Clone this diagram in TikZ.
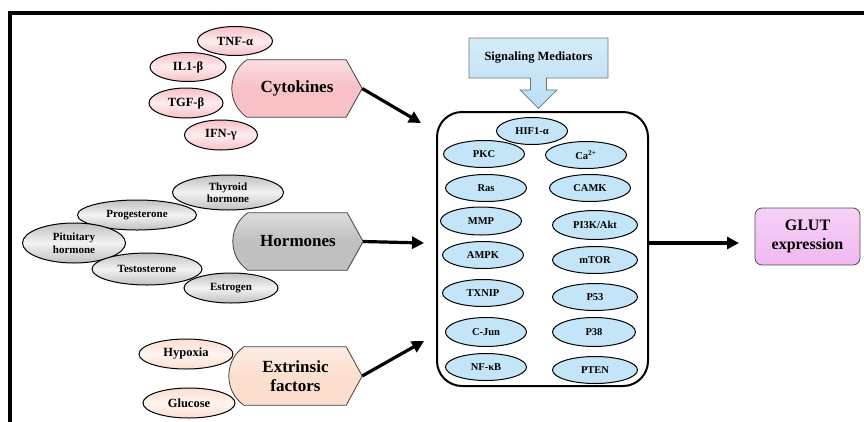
\documentclass[tikz,border=0pt]{standalone}
\usepackage{fontspec}
\setmainfont{Liberation Serif}
\usetikzlibrary{calc, positioning}
\usetikzlibrary{arrows.meta}
\usetikzlibrary{shapes.geometric, shapes.arrows}
\usetikzlibrary{backgrounds}

\definecolor{cytopink}{RGB}{247,193,198}
\definecolor{hormgray}{RGB}{192,192,192}
\definecolor{extpeach}{RGB}{251,222,205}
\definecolor{medblue}{RGB}{196,229,248}
\definecolor{sigblue}{RGB}{186,222,244}
\definecolor{glutpink}{RGB}{241,184,241}

\tikzset{
  leaf/.style={ellipse, draw=black, line width=1pt, inner sep=0pt, align=center,
    font=\bfseries\fontsize{11}{12.5}\selectfont},
  cytoleaf/.style={leaf, top color=cytopink, bottom color=cytopink, middle color=white!70!cytopink,
    font=\bfseries\fontsize{12.5}{14}\selectfont},
  hormleaf/.style={leaf, top color=hormgray, bottom color=hormgray, middle color=white!80!hormgray},
  extleaf/.style={leaf, top color=extpeach, bottom color=extpeach, middle color=white!70!extpeach,
    font=\bfseries\fontsize{12.5}{14}\selectfont},
  medleaf/.style={leaf, fill=medblue, minimum width=81, minimum height=27,
    font=\bfseries\fontsize{10.5}{12}\selectfont},
  tagbox/.style={inner sep=0pt, align=center, font=\bfseries\fontsize{17}{19.5}\selectfont},
  flow/.style={-{Triangle[length=12pt, width=12pt]}, line width=3.2pt},
}

\newcommand{\tagshape}[2]{%
  \path[draw=black!75, line width=0.8pt, top color=white!45!#2, bottom color=#2, middle color=#2]
    ($(#1.south west)+(15,0)$) .. controls ($(#1.west)+(-5,15)$) and ($(#1.west)+(-5,-15)$) ..
    ($(#1.north west)+(15,0)$) -- ($(#1.north east)+(-16,0)$) -- (#1.east)
    -- ($(#1.south east)+(-16,0)$) -- cycle;}

\begin{document}
\begin{tikzpicture}[x=1pt, y=-1pt]
\useasboundingbox (0,0) rectangle (864,421);
\clip (0,0) rectangle (864,421);
\draw[line width=3.5pt] (10,440) -- (10,13) -- (880,13);

\node[cytoleaf, minimum width=75, minimum height=29] (tnf) at (235,41) {TNF-α};
\node[cytoleaf, minimum width=76, minimum height=29] (ilb) at (188,67) {IL1-β};
\node[cytoleaf, minimum width=74, minimum height=30] (tgf) at (186,103) {TGF-β};
\node[cytoleaf, minimum width=73, minimum height=30] (ifn) at (221,135) {IFN-γ};
\node[tagbox, minimum width=130, minimum height=57] (cyto) at (297,88.5) {Cytokines};

\node[hormleaf, minimum width=111, minimum height=35] (thyroid) at (228,192.5) {Thyroid\\hormone};
\node[hormleaf, minimum width=119, minimum height=30] (proges) at (137,215) {Progesterone};
\node[hormleaf, minimum width=103, minimum height=40] (pituit) at (74,243) {Pituitary\\hormone};
\node[hormleaf, minimum width=110, minimum height=32] (testo) at (147,269) {Testosterone};
\node[hormleaf, minimum width=94, minimum height=30] (estro) at (231,288) {Estrogen};
\node[tagbox, minimum width=130, minimum height=57] (horm) at (298,241.5) {Hormones};

\node[extleaf, minimum width=94, minimum height=30] (hypoxia) at (186,354) {Hypoxia};
\node[extleaf, minimum width=92, minimum height=30] (glucose) at (189,403) {Glucose};
\node[tagbox, minimum width=133, minimum height=58] (ext) at (295.5,376) {Extrinsic\\factors};

\begin{scope}[on background layer]
\tagshape{cyto}{cytopink}
\tagshape{horm}{hormgray}
\tagshape{ext}{extpeach}
\end{scope}

\node[arrow box, arrow box arrows={south:30pt}, arrow box shaft width=16pt,
  arrow box head extend=10.5pt, arrow box tip angle=90, draw=black!55, line width=0.8pt,
  top color=white!40!sigblue, bottom color=sigblue, minimum width=139, minimum height=40,
  inner sep=0pt, font=\bfseries\fontsize{12.5}{14}\selectfont] (signal) at (538.5,58) {Signaling Mediators};

\node[draw, line width=2pt, rounded corners=25, minimum width=211, minimum height=274] (medbox) at (542.5,249) {};

\node[medleaf, minimum width=71] (hif) at (532,131) {HIF1-α};
\node[medleaf] (pkc) at (484,154) {PKC};
\node[medleaf] (ca) at (586,155) {Ca\textsuperscript{2+}};
\node[medleaf] (ras) at (486,188) {Ras};
\node[medleaf] (camk) at (590,188) {CAMK};
\node[medleaf, minimum height=28] (mmp) at (481,221) {MMP};
\node[medleaf, minimum width=85, minimum height=29] (pik) at (595,225) {PI3K/Akt};
\node[medleaf] (ampk) at (483,255) {AMPK};
\node[medleaf, minimum width=85] (mtor) at (595,260) {mTOR};
\node[medleaf] (txnip) at (483,293) {TXNIP};
\node[medleaf, minimum width=85] (pft) at (595,297) {P53};
\node[medleaf, minimum height=29] (cjun) at (486,332) {C-Jun};
\node[medleaf, minimum width=83, minimum height=29] (pte) at (594,332) {P38};
\node[medleaf] (nfkb) at (486,367) {NF-κB};
\node[medleaf, minimum width=85] (pten) at (595,370) {PTEN};

\node[draw=black!70, line width=0.8pt, rounded corners=7, top color=white!35!glutpink, bottom color=glutpink,
  minimum width=105, minimum height=57, align=center,
  font=\bfseries\fontsize{16}{19}\selectfont] (glut) at (807.5,236.5) {GLUT\\expression};

\coordinate (cytotip) at (421,123);
\coordinate (hormtip) at (424,243);
\coordinate (exttip) at (424,341);
\coordinate (gluttip) at (739,243);

\draw[flow] (cyto.east) -- (cytotip);
\draw[flow] (horm.east) -- (hormtip);
\draw[flow] (ext.east) -- (exttip);
\draw[flow] (medbox.east |- gluttip) -- (gluttip);
\end{tikzpicture}
\end{document}
